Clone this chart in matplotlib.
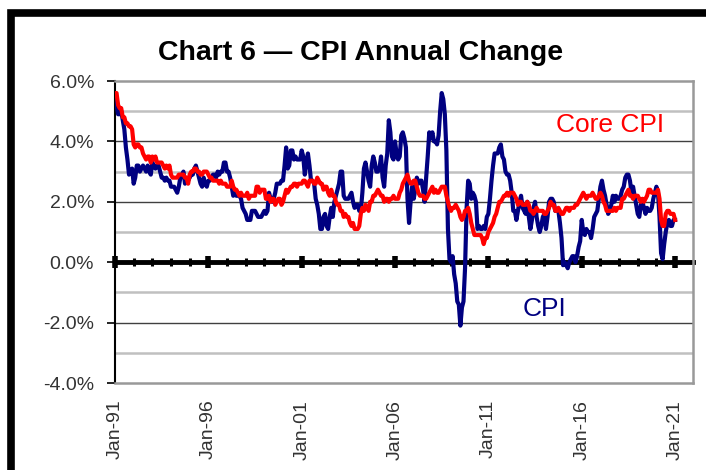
import numpy as np
import matplotlib
matplotlib.use('Agg')
import matplotlib.pyplot as plt
from matplotlib.patches import Rectangle

plt.rcParams.update({'font.family': ['Liberation Sans', 'DejaVu Sans']})

START_YEAR = 1991

# US CPI, % change year ago, monthly Jan-91 .. Jan-21
cpi = [
    5.4, 5.2, 4.9, 4.9, 5.0, 4.7, 4.4, 3.8, 3.4, 2.9, 3.0, 3.1,   # 1991
    2.6, 2.8, 3.2, 3.2, 3.0, 3.1, 3.2, 3.1, 3.0, 3.2, 3.0, 2.9,   # 1992
    3.3, 3.2, 3.1, 3.2, 3.2, 3.0, 2.8, 2.8, 2.7, 2.8, 2.7, 2.7,   # 1993
    2.5, 2.5, 2.5, 2.4, 2.3, 2.5, 2.8, 2.9, 3.0, 2.6, 2.7, 2.7,   # 1994
    2.8, 2.9, 2.9, 3.1, 3.2, 3.0, 2.8, 2.6, 2.5, 2.8, 2.6, 2.5,   # 1995
    2.7, 2.7, 2.8, 2.9, 2.9, 2.8, 3.0, 2.9, 3.0, 3.0, 3.3, 3.3,   # 1996
    3.0, 3.0, 2.8, 2.5, 2.2, 2.3, 2.2, 2.2, 2.2, 2.1, 1.8, 1.7,   # 1997
    1.6, 1.4, 1.4, 1.4, 1.7, 1.7, 1.7, 1.6, 1.5, 1.5, 1.5, 1.6,   # 1998
    1.7, 1.6, 1.7, 2.3, 2.1, 2.0, 2.1, 2.3, 2.6, 2.6, 2.6, 2.7,   # 1999
    2.7, 3.2, 3.8, 3.1, 3.2, 3.7, 3.7, 3.4, 3.5, 3.4, 3.4, 3.4,   # 2000
    3.7, 3.5, 2.9, 3.3, 3.6, 3.2, 2.7, 2.7, 2.6, 2.1, 1.9, 1.6,   # 2001
    1.1, 1.1, 1.5, 1.6, 1.2, 1.1, 1.5, 1.8, 1.5, 2.0, 2.2, 2.4,   # 2002
    2.6, 3.0, 3.0, 2.2, 2.1, 2.1, 2.1, 2.2, 2.3, 2.0, 1.8, 1.9,   # 2003
    1.9, 1.7, 1.7, 2.3, 3.1, 3.3, 3.0, 2.7, 2.5, 3.2, 3.5, 3.3,   # 2004
    3.0, 3.0, 3.1, 3.5, 2.8, 2.5, 3.2, 3.6, 4.7, 4.3, 3.5, 3.4,   # 2005
    4.0, 3.6, 3.4, 3.5, 4.2, 4.3, 4.1, 3.8, 2.1, 1.3, 2.0, 2.5,   # 2006
    2.1, 2.4, 2.8, 2.6, 2.7, 2.7, 2.4, 2.0, 2.8, 3.5, 4.3, 4.1,   # 2007
    4.3, 4.0, 4.0, 3.9, 4.2, 5.0, 5.6, 5.4, 4.9, 3.7, 1.1, 0.1,   # 2008
    0.0, 0.2, -0.4, -0.7, -1.3, -1.4, -2.1, -1.5, -1.3, -0.2, 1.8, 2.7,  # 2009
    2.6, 2.1, 2.3, 2.2, 2.0, 1.1, 1.2, 1.1, 1.1, 1.2, 1.1, 1.5,   # 2010
    1.6, 2.1, 2.7, 3.2, 3.6, 3.6, 3.6, 3.8, 3.9, 3.5, 3.4, 3.0,   # 2011
    2.9, 2.9, 2.7, 2.3, 1.7, 1.7, 1.4, 1.7, 2.0, 2.2, 1.8, 1.7,   # 2012
    1.6, 2.0, 1.5, 1.1, 1.4, 1.8, 2.0, 1.5, 1.2, 1.0, 1.2, 1.5,   # 2013
    1.6, 1.1, 1.5, 2.0, 2.1, 2.1, 2.0, 1.7, 1.7, 1.7, 1.3, 0.8,   # 2014
    -0.1, 0.0, -0.1, -0.2, 0.0, 0.1, 0.2, 0.2, 0.0, 0.2, 0.5, 0.7,  # 2015
    1.4, 1.0, 0.9, 1.1, 1.0, 1.0, 0.8, 1.1, 1.5, 1.6, 1.7, 2.1,   # 2016
    2.5, 2.7, 2.4, 2.2, 1.9, 1.6, 1.7, 1.9, 2.2, 2.0, 2.2, 2.1,   # 2017
    2.1, 2.2, 2.4, 2.5, 2.8, 2.9, 2.9, 2.7, 2.3, 2.5, 2.2, 1.9,   # 2018
    1.6, 1.5, 1.9, 2.0, 1.8, 1.6, 1.8, 1.7, 1.7, 1.8, 2.1, 2.3,   # 2019
    2.5, 2.3, 1.5, 0.3, 0.1, 0.6, 1.0, 1.3, 1.4, 1.2, 1.2, 1.4,   # 2020
    1.4,                                                          # 2021
]

# Core CPI (ex food & energy), % change year ago
core = [
    5.6, 5.6, 5.2, 5.1, 5.1, 4.8, 4.8, 4.6, 4.6, 4.5, 4.5, 4.4,   # 1991
    3.9, 3.8, 3.9, 3.9, 3.8, 3.8, 3.6, 3.5, 3.4, 3.5, 3.5, 3.3,   # 1992
    3.5, 3.4, 3.5, 3.3, 3.3, 3.3, 3.3, 3.2, 3.1, 3.2, 3.1, 3.2,   # 1993
    2.9, 2.8, 2.8, 2.8, 2.8, 2.9, 2.9, 2.9, 2.9, 2.8, 2.8, 2.6,   # 1994
    2.9, 3.0, 3.0, 3.1, 3.1, 3.0, 3.0, 2.9, 2.9, 3.0, 3.0, 3.0,   # 1995
    2.9, 2.8, 2.8, 2.7, 2.7, 2.7, 2.7, 2.6, 2.7, 2.6, 2.6, 2.6,   # 1996
    2.5, 2.5, 2.5, 2.7, 2.5, 2.4, 2.4, 2.3, 2.2, 2.3, 2.2, 2.2,   # 1997
    2.2, 2.3, 2.1, 2.2, 2.2, 2.2, 2.2, 2.5, 2.5, 2.3, 2.4, 2.4,   # 1998
    2.4, 2.1, 2.1, 2.2, 2.0, 2.1, 2.1, 1.9, 2.0, 2.1, 2.1, 1.9,   # 1999
    2.0, 2.2, 2.4, 2.3, 2.4, 2.5, 2.5, 2.6, 2.6, 2.5, 2.6, 2.6,   # 2000
    2.6, 2.7, 2.7, 2.6, 2.5, 2.7, 2.7, 2.7, 2.6, 2.6, 2.8, 2.7,   # 2001
    2.6, 2.6, 2.4, 2.5, 2.5, 2.3, 2.2, 2.4, 2.2, 2.2, 2.0, 1.9,   # 2002
    1.9, 1.7, 1.7, 1.5, 1.6, 1.5, 1.5, 1.3, 1.2, 1.3, 1.1, 1.1,   # 2003
    1.1, 1.2, 1.6, 1.8, 1.7, 1.9, 1.8, 1.7, 2.0, 2.0, 2.2, 2.2,   # 2004
    2.3, 2.4, 2.3, 2.2, 2.2, 2.0, 2.1, 2.1, 2.0, 2.1, 2.1, 2.2,   # 2005
    2.1, 2.1, 2.1, 2.3, 2.4, 2.6, 2.7, 2.8, 2.9, 2.7, 2.6, 2.6,   # 2006
    2.7, 2.7, 2.5, 2.3, 2.2, 2.2, 2.2, 2.1, 2.1, 2.2, 2.3, 2.4,   # 2007
    2.5, 2.3, 2.4, 2.3, 2.3, 2.4, 2.5, 2.5, 2.5, 2.2, 2.0, 1.8,   # 2008
    1.7, 1.8, 1.8, 1.9, 1.8, 1.7, 1.5, 1.4, 1.5, 1.7, 1.7, 1.8,   # 2009
    1.6, 1.3, 1.1, 0.9, 0.9, 0.9, 0.9, 0.9, 0.8, 0.6, 0.8, 0.8,   # 2010
    1.0, 1.1, 1.2, 1.3, 1.5, 1.6, 1.8, 2.0, 2.0, 2.1, 2.2, 2.2,   # 2011
    2.3, 2.2, 2.3, 2.3, 2.3, 2.2, 2.1, 1.9, 2.0, 2.0, 1.9, 1.9,   # 2012
    1.9, 2.0, 1.9, 1.7, 1.7, 1.6, 1.7, 1.8, 1.7, 1.7, 1.7, 1.7,   # 2013
    1.6, 1.6, 1.7, 1.8, 2.0, 1.9, 1.9, 1.7, 1.7, 1.8, 1.7, 1.6,   # 2014
    1.6, 1.7, 1.8, 1.8, 1.7, 1.8, 1.8, 1.8, 1.9, 1.9, 2.0, 2.1,   # 2015
    2.2, 2.3, 2.2, 2.1, 2.2, 2.2, 2.2, 2.3, 2.2, 2.1, 2.1, 2.2,   # 2016
    2.3, 2.2, 2.0, 1.9, 1.7, 1.7, 1.7, 1.7, 1.7, 1.8, 1.7, 1.8,   # 2017
    1.8, 1.8, 2.1, 2.1, 2.2, 2.3, 2.4, 2.2, 2.2, 2.1, 2.2, 2.2,   # 2018
    2.2, 2.1, 2.0, 2.1, 2.0, 2.1, 2.2, 2.4, 2.4, 2.3, 2.3, 2.3,   # 2019
    2.3, 2.4, 2.1, 1.4, 1.2, 1.2, 1.6, 1.7, 1.7, 1.6, 1.6, 1.6,   # 2020
    1.4,                                                          # 2021
]

major_years = [1991, 1996, 2001, 2006, 2011, 2016, 2021]
major_labels = ['Jan-91', 'Jan-96', 'Jan-01', 'Jan-06', 'Jan-11', 'Jan-16', 'Jan-21']
y_ticks = [-4, -2, 0, 2, 4, 6]

NAVY = '#000080'
RED = '#FF0000'
TXT = '#333333'

t = START_YEAR + np.arange(len(cpi)) / 12.0

fig = plt.figure(figsize=(7.06, 4.70), dpi=100)
ax = fig.add_axes([115 / 706, 1 - 383 / 470, 578 / 706, 302 / 470])

# gridlines: dark every 2%, light on odd %
for y in [-2, 2, 4]:
    ax.axhline(y, color='#404040', lw=1.0, zorder=1)
for y in [-3, -1, 1, 3, 5]:
    ax.axhline(y, color='#C0C0C0', lw=1.8, zorder=1)

ax.plot(t, cpi, color=NAVY, lw=3.0, zorder=3, solid_joinstyle='round')
ax.plot(t, core, color=RED, lw=3.0, zorder=4, solid_joinstyle='round')

ax.set_xlim(START_YEAR, 2021.96)
ax.set_ylim(-4, 6)

ax.set_yticks(y_ticks)
ax.set_yticklabels([f'{v:.1f}%' for v in y_ticks], fontsize=14, color=TXT)
ax.tick_params(axis='y', direction='out', length=6, width=1.2, color='black', pad=9)

ax.set_xticks(major_years)
ax.set_xticklabels(major_labels, rotation=90, fontsize=14, color=TXT)
ax.tick_params(axis='x', length=0, pad=12)

for s in ['top', 'right', 'bottom']:
    ax.spines[s].set_color('#999999')
    ax.spines[s].set_linewidth(1.8)
ax.spines['left'].set_color('black')
ax.spines['left'].set_linewidth(1.5)

# category axis crossing at 0%
zero = ax.secondary_xaxis(0.4)
zero.spines['bottom'].set_linewidth(3.5)
zero.spines['bottom'].set_color('black')
zero.set_xticks(major_years)
zero.set_xticklabels([])
zero.set_xticks(range(START_YEAR, 2022), minor=True)
zero.tick_params(which='major', direction='inout', length=9, width=4, color='black')
zero.tick_params(which='minor', direction='inout', length=6, width=2.2, color='black')

ax.text(2017.5, 4.54, 'Core CPI', color=RED, fontsize=19, ha='center', va='center')
ax.text(2014.0, -1.55, 'CPI', color=NAVY, fontsize=19, ha='center', va='center')

fig.text(361 / 706, 1 - 53 / 470, 'Chart 6 \u2014 CPI Annual Change',
         fontsize=20.5, fontweight='bold', ha='center', va='center')

# outer black frame (cut off at right and bottom)
fig.patches.append(Rectangle((11 / 706, -0.1), 1.2, 1.1 - 12.5 / 470,
                             transform=fig.transFigure, fill=False,
                             edgecolor='black', lw=5.5, clip_on=False))

fig.savefig('out.png', dpi=100)
